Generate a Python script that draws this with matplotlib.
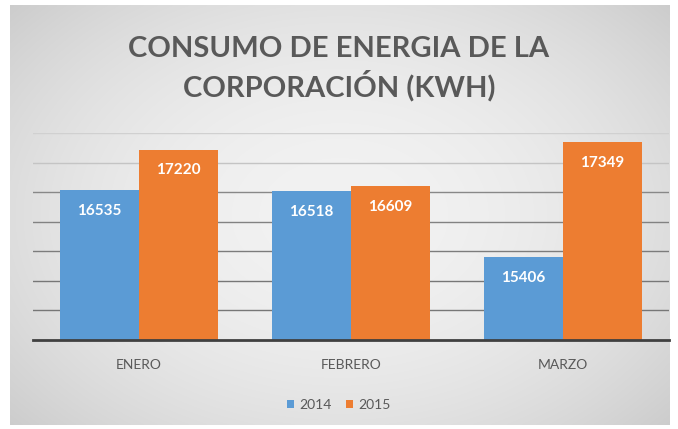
import numpy as np
import matplotlib.pyplot as plt

months = ["ENERO", "FEBRERO", "MARZO"]
years = ["2014", "2015"]
consumo_2014 = [16535, 16518, 15406]
consumo_2015 = [17220, 16609, 17349]

BLUE = "#5B9BD5"
ORANGE = "#ED7D31"
TEXT = "#595959"
FONT = "Lato"

fig = plt.figure(figsize=(6.78, 4.29), dpi=100)
fig.patch.set_facecolor("white")

# gradient panel behind the chart
bg = fig.add_axes([10 / 678, 4 / 429, 660 / 678, 420 / 429])
yy, xx = np.mgrid[-1:1:200j, -1:1:300j]
r = np.sqrt(xx ** 2 + (yy * 0.9) ** 2)
shade = 0.95 - 0.16 * np.clip(r, 0, 1.4) ** 2 / 1.96
bg.imshow(np.dstack([shade] * 3), aspect="auto", extent=(0, 1, 0, 1), interpolation="bilinear")
bg.set_axis_off()

ax = fig.add_axes([33 / 678, 1 - 340 / 429, 636 / 678, 207 / 429])
ax.patch.set_alpha(0)

x = np.arange(len(months))
w = 0.373
b1 = ax.bar(x - w / 2, consumo_2014, w, color=BLUE, label=years[0], zorder=3)
b2 = ax.bar(x + w / 2, consumo_2015, w, color=ORANGE, label=years[1], zorder=3)

for bars in (b1, b2):
    for rect in bars:
        h = rect.get_height()
        ax.annotate(f"{h}", (rect.get_x() + rect.get_width() / 2, h),
                    xytext=(0, -15), textcoords="offset points",
                    ha="center", va="center", color="white",
                    fontsize=11, weight="bold", family=FONT, zorder=4)

ax.set_ylim(14000, 17500)
ax.set_xlim(-0.5, 2.5)
grid_vals = np.arange(14500, 17501, 500)
grid_cols = ["#777777", "#777777", "#7c7c7c", "#828282", "#888888", "#c4c4c4", "#d0d0d0"]
for v, c in zip(grid_vals, grid_cols):
    ax.axhline(v, color=c, linewidth=1.0, zorder=1)
ax.set_yticks([])
ax.tick_params(axis="x", length=0, pad=14, labelcolor=TEXT, labelsize=10)
ax.set_xticks(x)
ax.set_xticklabels(months, family=FONT)
for side in ("top", "right", "left"):
    ax.spines[side].set_visible(False)
ax.spines["bottom"].set_color("#404040")
ax.spines["bottom"].set_linewidth(2)
ax.spines["bottom"].set_zorder(5)

fig.text(0.5, 1 - 69 / 429, "CONSUMO DE ENERGIA DE LA\nCORPORACIÓN (KWH)",
         ha="center", va="center", fontsize=21, weight="bold", color=TEXT,
         family=FONT, linespacing=1.3)

leg = fig.legend(handles=[b1, b2], loc="center", bbox_to_anchor=(0.5, 1 - 405 / 429),
                 ncol=2, frameon=False, handlelength=0.5, handleheight=0.5,
                 handletextpad=0.4, columnspacing=1.0, prop={"family": FONT, "size": 10})
for t in leg.get_texts():
    t.set_color(TEXT)

fig.savefig("out.png", dpi=100)
